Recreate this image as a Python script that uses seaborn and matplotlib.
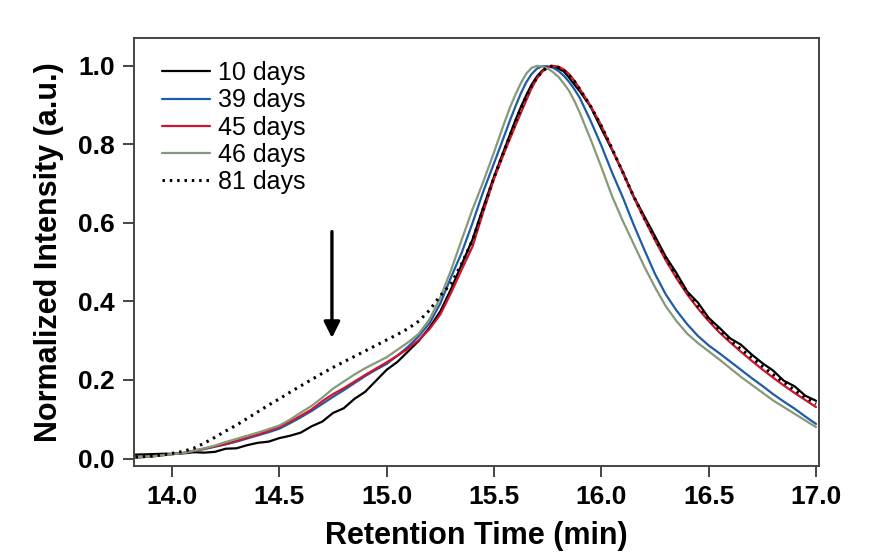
import numpy as np
import pandas as pd
import matplotlib
matplotlib.use("Agg")
import matplotlib.pyplot as plt
from matplotlib.ticker import FormatStrFormatter, MultipleLocator
import seaborn as sns

# retention time grid (min), denser around the peak
time_min = [13.83, 13.90, 13.95, 14.00, 14.05, 14.10, 14.15, 14.20, 14.25, 14.30,
            14.35, 14.40, 14.45, 14.50, 14.55, 14.60, 14.65, 14.70, 14.75, 14.80,
            14.85, 14.90, 14.95, 15.00, 15.05, 15.10, 15.15, 15.20, 15.25, 15.30,
            15.35, 15.40, 15.45, 15.50,
            15.55, 15.575, 15.60, 15.625, 15.65, 15.675, 15.70, 15.725, 15.75, 15.775,
            15.80, 15.825, 15.85, 15.875, 15.90,
            15.95, 16.00, 16.05, 16.10, 16.15, 16.20, 16.25, 16.30, 16.35, 16.40,
            16.45, 16.50, 16.55, 16.60, 16.65, 16.70, 16.75, 16.80, 16.85, 16.90,
            16.95, 17.00]

days_10 = [0.010, 0.011, 0.012, 0.012, 0.013, 0.016, 0.015, 0.017, 0.025, 0.026,
           0.034, 0.040, 0.043, 0.052, 0.058, 0.066, 0.082, 0.094, 0.116, 0.128,
           0.152, 0.170, 0.198, 0.226, 0.246, 0.273, 0.300, 0.334, 0.375, 0.432,
           0.495, 0.558, 0.640, 0.718,
           0.790, 0.826, 0.862, 0.895, 0.925, 0.952, 0.973, 0.988, 0.997, 0.999,
           0.993, 0.986, 0.970, 0.952, 0.935,
           0.896, 0.840, 0.786, 0.730, 0.668, 0.617, 0.566, 0.514, 0.472, 0.425,
           0.397, 0.358, 0.333, 0.306, 0.290, 0.265, 0.243, 0.224, 0.198, 0.184,
           0.160, 0.147]

days_39 = [0.003, 0.005, 0.008, 0.011, 0.014, 0.019, 0.024, 0.030, 0.036, 0.043,
           0.051, 0.059, 0.067, 0.076, 0.090, 0.105, 0.121, 0.139, 0.157, 0.174,
           0.192, 0.210, 0.226, 0.241, 0.262, 0.285, 0.312, 0.345, 0.395, 0.462,
           0.525, 0.600, 0.680, 0.752,
           0.825, 0.862, 0.897, 0.930, 0.958, 0.979, 0.993, 0.999, 0.999, 0.995,
           0.987, 0.975, 0.959, 0.940, 0.918,
           0.860, 0.797, 0.728, 0.665, 0.596, 0.532, 0.470, 0.418, 0.377, 0.342,
           0.312, 0.288, 0.268, 0.247, 0.226, 0.205, 0.185, 0.164, 0.145, 0.127,
           0.107, 0.088]

days_45 = [0.002, 0.005, 0.008, 0.011, 0.014, 0.020, 0.025, 0.031, 0.037, 0.045,
           0.053, 0.061, 0.070, 0.080, 0.094, 0.109, 0.125, 0.146, 0.164, 0.179,
           0.196, 0.213, 0.229, 0.245, 0.262, 0.280, 0.302, 0.330, 0.367, 0.422,
           0.482, 0.540, 0.628, 0.712,
           0.782, 0.815, 0.848, 0.880, 0.912, 0.943, 0.968, 0.985, 0.996, 1.000,
           0.998, 0.991, 0.979, 0.962, 0.941,
           0.898, 0.848, 0.788, 0.727, 0.666, 0.610, 0.556, 0.505, 0.459, 0.418,
           0.382, 0.350, 0.321, 0.296, 0.272, 0.249, 0.227, 0.206, 0.186, 0.167,
           0.149, 0.131]

days_46 = [0.003, 0.005, 0.008, 0.011, 0.014, 0.020, 0.026, 0.033, 0.042, 0.050,
           0.058, 0.066, 0.075, 0.084, 0.099, 0.117, 0.134, 0.155, 0.178, 0.196,
           0.214, 0.230, 0.244, 0.258, 0.277, 0.296, 0.318, 0.355, 0.410, 0.480,
           0.558, 0.635, 0.705, 0.780,
           0.858, 0.895, 0.927, 0.956, 0.980, 0.995, 1.000, 0.998, 0.993, 0.984,
           0.972, 0.955, 0.936, 0.910, 0.880,
           0.813, 0.742, 0.668, 0.605, 0.547, 0.489, 0.436, 0.388, 0.350, 0.318,
           0.294, 0.273, 0.252, 0.230, 0.208, 0.188, 0.168, 0.148, 0.131, 0.114,
           0.097, 0.080]

days_81 = [0.004, 0.006, 0.009, 0.013, 0.018, 0.026, 0.039, 0.054, 0.070, 0.085,
           0.102, 0.119, 0.136, 0.152, 0.169, 0.185, 0.201, 0.217, 0.232, 0.246,
           0.260, 0.274, 0.288, 0.302, 0.316, 0.331, 0.350, 0.378, 0.415, 0.445,
           0.497, 0.556, 0.636, 0.716,
           0.788, 0.823, 0.858, 0.891, 0.922, 0.949, 0.970, 0.986, 0.997, 1.000,
           0.996, 0.988, 0.976, 0.960, 0.940,
           0.897, 0.846, 0.789, 0.729, 0.668, 0.613, 0.560, 0.510, 0.465, 0.424,
           0.388, 0.356, 0.327, 0.300, 0.279, 0.257, 0.235, 0.214, 0.194, 0.174,
           0.156, 0.139]

series_labels = ["10 days", "39 days", "45 days", "46 days", "81 days"]
series_values = [days_10, days_39, days_45, days_46, days_81]
colors = ["#000000", "#1f5ba8", "#d2132b", "#869a7a", "#000000"]

rows = []
for lab, vals in zip(series_labels, series_values):
    for t, v in zip(time_min, vals):
        rows.append({"time": t, "intensity": v, "sample": lab})
df = pd.DataFrame(rows)

sns.set_theme(style="ticks")
plt.rcParams["font.family"] = ["Liberation Sans", "DejaVu Sans"]
plt.rcParams["text.color"] = "black"
plt.rcParams["xtick.labelcolor"] = "black"
plt.rcParams["ytick.labelcolor"] = "black"
plt.rcParams["axes.labelcolor"] = "black"

fig = plt.figure(figsize=(8.69, 5.56), dpi=100)
ax = fig.add_axes([0.1542, 0.1619, 0.7883, 0.7698])

dashes = {lab: "" for lab in series_labels}
dashes["81 days"] = (0.8, 1.6)
sns.lineplot(data=df, x="time", y="intensity", hue="sample", style="sample",
             hue_order=series_labels, style_order=series_labels,
             palette=dict(zip(series_labels, colors)), dashes=dashes,
             linewidth=1.6, estimator=None, ax=ax)
for line in ax.get_lines():
    if line.get_linestyle() not in ("-", "solid"):
        line.set_linewidth(2.2)

ax.set_xlim(13.823, 17.014)
ax.set_ylim(-0.019, 1.071)
ax.xaxis.set_major_locator(MultipleLocator(0.5))
ax.yaxis.set_major_locator(MultipleLocator(0.2))
ax.xaxis.set_major_formatter(FormatStrFormatter("%.1f"))
ax.yaxis.set_major_formatter(FormatStrFormatter("%.1f"))

for side in ["top", "right", "bottom", "left"]:
    ax.spines[side].set_visible(True)
    ax.spines[side].set_color("#444444")
    ax.spines[side].set_linewidth(1.4)
ax.tick_params(axis="both", direction="out", length=8, width=1.4, color="#444444",
               labelsize=19, pad=6)
for lbl in ax.get_xticklabels() + ax.get_yticklabels():
    lbl.set_fontweight("bold")

ax.set_xlabel("Retention Time (min)", fontsize=22, fontweight="bold", labelpad=8)
ax.set_ylabel("Normalized Intensity (a.u.)", fontsize=22, fontweight="bold", labelpad=10)

# arrow pointing at the shoulder
arrow_x = 14.745
ax.annotate("", xy=(arrow_x, 0.30), xytext=(arrow_x, 0.585),
            arrowprops=dict(arrowstyle="-|>", lw=2.4, color="black", mutation_scale=24))

handles, labels = ax.get_legend_handles_labels()
for h in handles:
    h.set_linewidth(1.6)
handles[-1].set_linewidth(2.2)
ax.legend(handles, labels, loc="upper left", bbox_to_anchor=(0.041, 0.946),
          frameon=False, fontsize=18, handlelength=1.9, handletextpad=0.35,
          labelspacing=0.13, borderpad=0, borderaxespad=0)

fig.savefig("out.png", dpi=100)
